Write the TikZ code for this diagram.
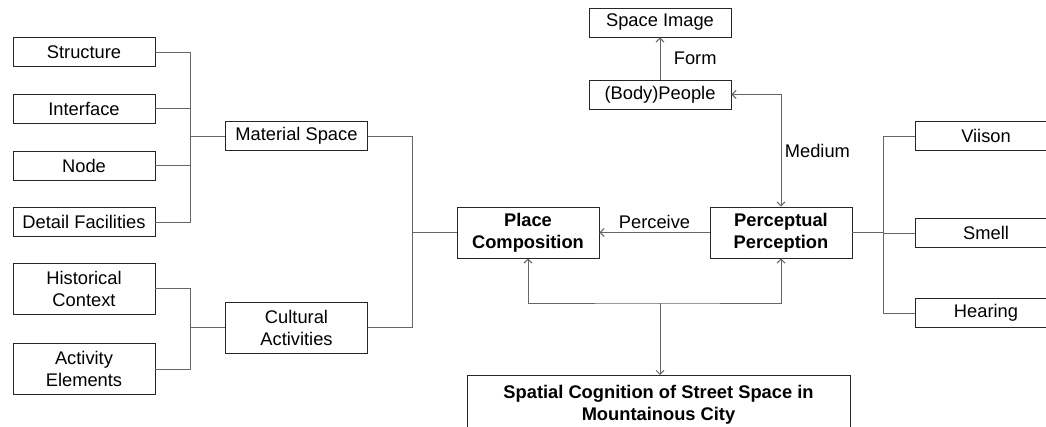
\documentclass[tikz,border=0pt]{standalone}
\usepackage{fontspec}
\setmainfont{Liberation Sans}
\usetikzlibrary{arrows.meta}
\tikzset{
  box/.style={draw=black!85, line width=0.9pt, minimum width=142pt, minimum height=29pt,
    inner sep=2pt, align=center, font=\fontsize{18.3}{22}\selectfont},
  tallbox/.style={box, minimum height=51pt},
  link/.style={draw=black!60, line width=1pt},
  arr/.style={link, -{Straight Barb[length=4pt,width=8pt]}},
  arrs/.style={link, {Straight Barb[length=4pt,width=8pt]}-{Straight Barb[length=4pt,width=8pt]}},
  lbl/.style={font=\fontsize{18.3}{22}\selectfont, text=black},
}
\begin{document}
\begin{tikzpicture}[x=1pt,y=-1pt]
  \useasboundingbox (0,0) rectangle (1046,426);
  % left side
  \foreach \n/\y/\t in {Str/52/Structure, Int/108.5/Interface, Nod/165.5/Node, Det/222/Detail Facilities}{
    \node[box](\n) at(84,\y) {\t};
  }
  \node[tallbox](Hist) at(84,288.5) {Historical\\Context};
  \node[tallbox](Act) at(84,369) {Activity\\Elements};
  \node[box](Mat) at(296.5,136) {Material Space};
  \node[tallbox](Cult) at(296.5,327.5) {Cultural\\Activities};
  % centre
  \node[tallbox, font=\fontsize{18.3}{22}\selectfont\bfseries](Place) at(528,232.5) {Place\\Composition};
  \node[tallbox, font=\fontsize{18.3}{22}\selectfont\bfseries](Perc) at(781,232.5) {Perceptual\\Perception};
  \node[box](Img) at(660,22.5) {Space Image};
  \node[box](Ppl) at(660,94.5) {(Body)People};
  \node[box, anchor=north, minimum width=383pt, inner ysep=10pt,
    font=\fontsize{18.3}{22}\selectfont\bfseries](City) at(658.5,375) {Spatial Cognition of Street Space in\\Mountainous City};
  % right side
  \foreach \n/\y/\t in {Vis/136/Viison, Sml/233/Smell, Hear/313/Hearing}{
    \node[box](\n) at(986,\y) {\t};
  }
  \coordinate(LM) at(190,136);
  \coordinate(LC) at(190,327.5);
  \coordinate(MC) at(412,232.5);
  \coordinate(RS) at(883.5,232.5);
  \coordinate(J) at(660,303);
  % brackets
  \foreach \n in {Str,Int,Nod,Det}{
    \draw[link](\n.east) -| (LM);
  }
  \draw[link](LM) -- (Mat.west);
  \foreach \n in {Hist,Act}{
    \draw[link](\n.east) -| (LC);
  }
  \draw[link](LC) -- (Cult.west);
  \draw[link](Mat.east) -| (MC);
  \draw[link](Cult.east) -| (MC);
  \draw[link](MC) -- (Place.west);
  \draw[link](Perc.east) -- (RS);
  \foreach \n in {Vis,Sml,Hear}{
    \draw[link](RS) |- (\n.west);
  }
  % arrows
  \draw[arr](Perc.west) -- node[lbl, above]{Perceive} (Place.east);
  \draw[arr](Ppl.north) -- node[lbl, right=10pt]{Form} (Img.south);
  \draw[arrs](Ppl.east) -| node[lbl, pos=0.75, right]{Medium} (Perc.north);
  \draw[arrs](Place.south) |- (J) -| (Perc.south);
  \draw[arr](J) -- (J |- City.north);
\end{tikzpicture}
\end{document}
